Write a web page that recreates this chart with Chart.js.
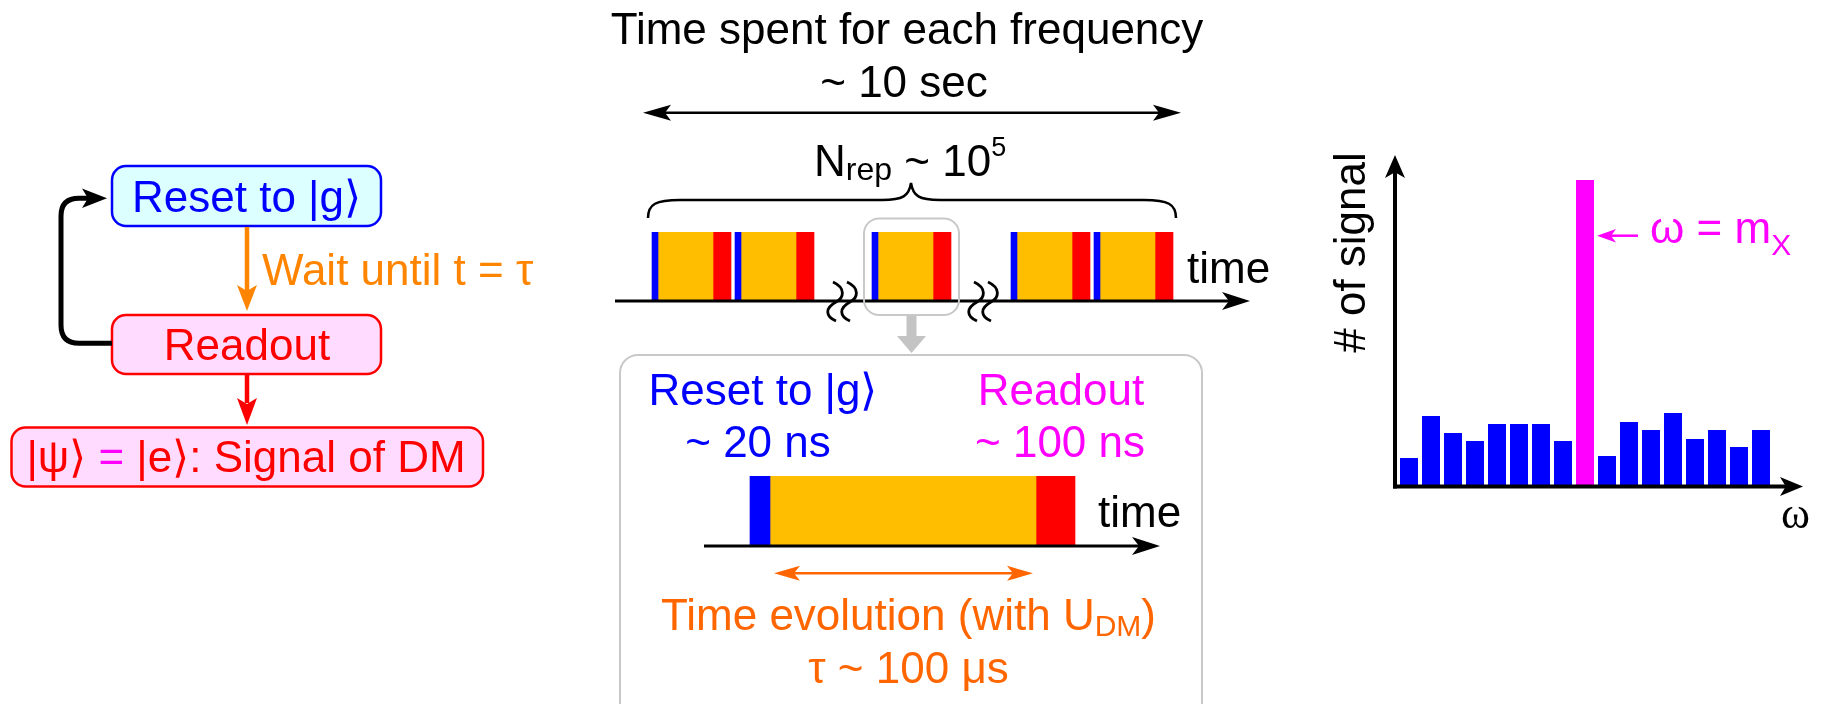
<!DOCTYPE html>
<html>
<head>
<meta charset="utf-8">
<script src="https://cdn.jsdelivr.net/npm/chart.js@4.4.1/dist/chart.umd.min.js"></script>
<style>
body{margin:0;background:#fff;}
#wrap{position:relative;width:1825px;height:704px;overflow:hidden;font-family:"Liberation Sans",Arial,sans-serif;}
canvas{position:absolute;}
svg{position:absolute;left:0;top:0;pointer-events:none;}
svg text{font-size:44px;font-family:"Liberation Sans",Arial,sans-serif;}
</style>
</head>
<body>
<div id="wrap">
<canvas id="sweep" width="680" height="130" style="left:600px;top:200px"></canvas>
<canvas id="single" width="500" height="110" style="left:690px;top:460px"></canvas>
<canvas id="spectrum" width="440" height="360" style="left:1380px;top:140px"></canvas>

<svg width="1825" height="704">
  <!-- loop on the left -->
  <rect x="112" y="166" width="269" height="60" rx="14" fill="#dcffff" stroke="#0000ff" stroke-width="2.5"/>
  <text x="246.5" y="211.5" text-anchor="middle" fill="#0000ff">Reset to |g⟩</text>
  <line x1="247" y1="227" x2="247" y2="292" stroke="#ff8400" stroke-width="4.5"/>
  <polygon points="247,311 237,285 247,291 257,285" fill="#ff8400"/>
  <text x="262" y="285" fill="#ff8400">Wait until t = τ</text>
  <rect x="112" y="315" width="269" height="59" rx="14" fill="#ffdcff" stroke="#ff0000" stroke-width="2.5"/>
  <text x="247" y="360" text-anchor="middle" fill="#ff0000">Readout</text>
  <line x1="247" y1="375" x2="247" y2="403" stroke="#ff0000" stroke-width="4.5"/>
  <polygon points="247,425 237,398 247,404 257,398" fill="#ff0000"/>
  <rect x="11.5" y="427.5" width="471.5" height="59" rx="14" fill="#ffdcff" stroke="#ff0000" stroke-width="2.5"/>
  <text x="246" y="472" text-anchor="middle" fill="#ff0000">|ψ⟩ <tspan fill="#ff00ff">=</tspan> |e⟩: Signal of DM</text>
  <path d="M112,343.3 H79 Q61,343.3 61,325 V216 Q61,198.3 79,198.3 H92" fill="none" stroke="#000" stroke-width="5"/>
  <polygon points="107,198.3 82,188.5 88,198.3 82,208" fill="#000"/>

  <!-- one frequency -->
  <text x="907" y="44" text-anchor="middle">Time spent for each frequency</text>
  <text x="904" y="97" text-anchor="middle">~ 10 sec</text>
  <line x1="660" y1="112.7" x2="1165" y2="112.7" stroke="#000" stroke-width="2.5"/>
  <polygon points="643,112.7 671,104.7 665,112.7 671,120.7" fill="#000"/>
  <polygon points="1181,112.7 1153,104.7 1159,112.7 1153,120.7" fill="#000"/>
  <text x="814" y="176">N<tspan font-size="32" dy="4">rep</tspan><tspan dy="-4"> ~ 10</tspan><tspan font-size="27" dy="-20">5</tspan></text>
  <path d="M648,218 C648,204 656,200 680,200 L882,200 C903,200 909,196 911,183 C913,196 919,200 940,200 L1144,200 C1168,200 1176,204 1176,218" fill="none" stroke="#000" stroke-width="2.5"/>
  <text x="1187" y="283">time</text>
  <path d="M833,282 C846,288 844,298 836,302 C825,308 825,316 836,321 M847,282 C860,288 858,298 850,302 C839,308 839,316 850,321" fill="none" stroke="#000" stroke-width="2.8"/>
  <path d="M974,282 C987,288 985,298 977,302 C966,308 966,316 977,321 M988,282 C1001,288 999,298 991,302 C980,308 980,316 991,321" fill="none" stroke="#000" stroke-width="2.8"/>
  <rect x="864" y="218.5" width="95" height="96.5" rx="15" fill="none" stroke="#c8c8c8" stroke-width="2"/>
  <rect x="906.5" y="316" width="10" height="22" fill="#c4c4c4"/>
  <polygon points="897,336 926,336 911.5,353" fill="#c4c4c4"/>

  <!-- enlarged repetition -->
  <rect x="620" y="355" width="582" height="380" rx="18" fill="none" stroke="#c8c8c8" stroke-width="2"/>
  <text x="763" y="405" text-anchor="middle" fill="#0000ff">Reset to |g⟩</text>
  <text x="758" y="457" text-anchor="middle" fill="#0000ff">~ 20 ns</text>
  <text x="1061" y="405" text-anchor="middle" fill="#ff00ff">Readout</text>
  <text x="1060" y="457" text-anchor="middle" fill="#ff00ff">~ 100 ns</text>
  <text x="1098" y="527">time</text>
  <line x1="790" y1="573.3" x2="1017" y2="573.3" stroke="#ff6600" stroke-width="2.5"/>
  <polygon points="774,573.3 800,565.8 794,573.3 800,580.8" fill="#ff6600"/>
  <polygon points="1033,573.3 1007,565.8 1013,573.3 1007,580.8" fill="#ff6600"/>
  <text x="908.5" y="630" text-anchor="middle" fill="#ff6600">Time evolution (with U<tspan font-size="30" dy="6">DM</tspan><tspan dy="-6">)</tspan></text>
  <text x="908.5" y="683" text-anchor="middle" fill="#ff6600">τ ~ 100 μs</text>

  <!-- spectrum labels -->
  <text transform="translate(1365,252.5) rotate(-90)" text-anchor="middle"># of signal</text>
  <line x1="1610" y1="235.7" x2="1638" y2="235.7" stroke="#ff00ff" stroke-width="2.5"/>
  <polygon points="1597,235.7 1616,229 1611,235.7 1616,242.4" fill="#ff00ff"/>
  <text x="1650" y="243" fill="#ff00ff">ω = m<tspan font-size="30" dy="12">X</tspan></text>
  <text x="1781" y="528" style="font-family:'Liberation Serif',serif">ω</text>
</svg>
</div>

<script>
// repetitions within one frequency step (drawing time units along the axis)
const repStarts = [37, 120, 257, 396, 479];
const stepNames = ['reset', 'wait', 'readout'];
const stepLengths = [6, 55, 18];
const sweepAxisMax = 635;

// one repetition enlarged
const singleStart = [46];
const singleLengths = [20, 266, 39];
const singleAxisMax = 456;

// histogram of signals vs frequency
const freqBins = ['w1','w2','w3','w4','w5','w6','w7','w8','mX','w10','w11','w12','w13','w14','w15','w16','w17'];
const signalCounts = [27, 69, 52, 44, 61, 61, 61, 44, 305, 29, 63, 55, 72, 46, 55, 38, 55];
const peakBin = 'mX';
const countMax = 330;

const BLUE = '#0000ff', AMBER = '#ffbf00', RED = '#ff0000', MAGENTA = '#ff00ff';
const stepColor = {reset: BLUE, wait: AMBER, readout: RED};

function arrow(ctx, x1, y1, x2, y2, w, len, half) {
  const ang = Math.atan2(y2 - y1, x2 - x1);
  ctx.lineWidth = w;
  ctx.beginPath();
  ctx.moveTo(x1, y1);
  ctx.lineTo(x2 - Math.cos(ang) * len * 0.7, y2 - Math.sin(ang) * len * 0.7);
  ctx.stroke();
  ctx.save();
  ctx.translate(x2, y2);
  ctx.rotate(ang);
  ctx.beginPath();
  ctx.moveTo(0, 0);
  ctx.lineTo(-len, -half);
  ctx.lineTo(-len * 0.75, 0);
  ctx.lineTo(-len, half);
  ctx.closePath();
  ctx.fill();
  ctx.restore();
}

// draws a time axis with arrow under floating bars
const timeAxis = {
  id: 'timeAxis',
  afterDraw(chart) {
    const a = chart.chartArea, ctx = chart.ctx;
    ctx.save();
    ctx.strokeStyle = '#000';
    ctx.fillStyle = '#000';
    arrow(ctx, a.left, a.bottom + 1, a.right, a.bottom + 1, 3, 28, 9);
    ctx.restore();
  }
};

function pulseSets(starts, lengths) {
  const sets = [];
  starts.forEach(s => {
    let t = s;
    lengths.forEach((len, k) => {
      sets.push({
        label: stepNames[k],
        data: [[t, t + len]],
        backgroundColor: stepColor[stepNames[k]],
        grouped: false,
        barPercentage: 1,
        categoryPercentage: 1,
        borderWidth: 0
      });
      t += len;
    });
  });
  return sets;
}

function timeline(id, starts, lengths, max, pad) {
  return new Chart(document.getElementById(id).getContext('2d'), {
    type: 'bar',
    data: {labels: ['t'], datasets: pulseSets(starts, lengths)},
    options: {
      indexAxis: 'y',
      responsive: false,
      animation: false,
      layout: {padding: pad},
      scales: {
        x: {type: 'linear', min: 0, max: max, display: false},
        y: {display: false}
      },
      plugins: {legend: {display: false}, tooltip: {enabled: false}}
    },
    plugins: [timeAxis]
  });
}

timeline('sweep', repStarts, stepLengths, sweepAxisMax, {left: 15, right: 30, top: 32, bottom: 30});
timeline('single', singleStart, singleLengths, singleAxisMax, {left: 14, right: 30, top: 16, bottom: 25});

const spectrumAxes = {
  id: 'spectrumAxes',
  afterDraw(chart) {
    const a = chart.chartArea, ctx = chart.ctx;
    ctx.save();
    ctx.strokeStyle = '#000';
    ctx.fillStyle = '#000';
    arrow(ctx, a.left - 3, a.bottom + 3.5, a.left - 3, a.top, 4, 23, 10);
    arrow(ctx, a.left - 5, a.bottom + 1.5, a.right + 31, a.bottom + 1.5, 4, 23, 9.5);
    ctx.restore();
  }
};

new Chart(document.getElementById('spectrum').getContext('2d'), {
  type: 'bar',
  data: {
    labels: freqBins,
    datasets: [{
      data: signalCounts,
      backgroundColor: freqBins.map(b => b === peakBin ? MAGENTA : BLUE),
      borderWidth: 0,
      barPercentage: 18 / 22,
      categoryPercentage: 1
    }]
  },
  options: {
    responsive: false,
    animation: false,
    layout: {padding: {left: 18, right: 48, top: 15, bottom: 15}},
    scales: {
      x: {display: false},
      y: {min: 0, max: countMax, display: false}
    },
    plugins: {legend: {display: false}, tooltip: {enabled: false}}
  },
  plugins: [spectrumAxes]
});
</script>
</body>
</html>
